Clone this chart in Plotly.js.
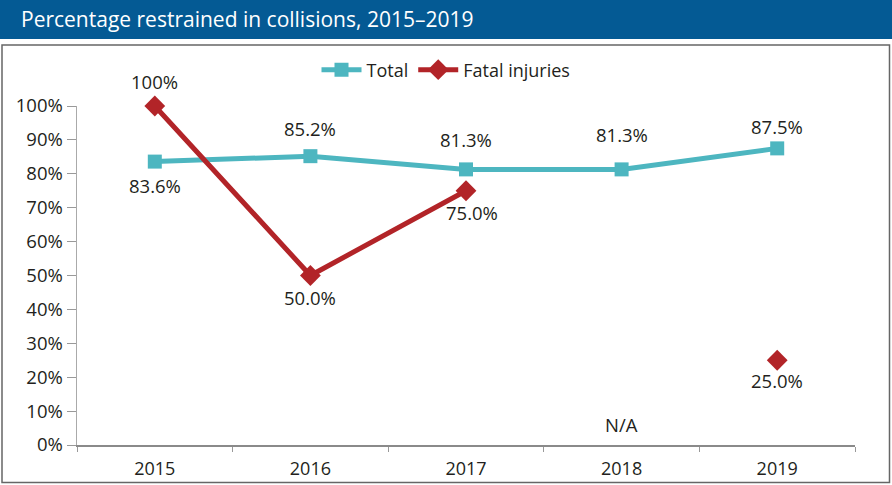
<!DOCTYPE html>
<html>
<head>
<meta charset="utf-8">
<script src="https://cdn.plot.ly/plotly-3.0.1.min.js"></script>
<style>html,body{margin:0;padding:0;background:#fff;}#chart{width:892px;height:485px;}</style>
</head>
<body>
<div id="chart"></div>
<script>
const years = ['2015', '2016', '2017', '2018', '2019'];
const totalValues = [83.6, 85.2, 81.3, 81.3, 87.5];
const fatalValues = [100, 50.0, 75.0, null, 25.0];
const totalLabels = ['83.6%', '85.2%', '81.3%', '81.3%', '87.5%'];
const fatalLabels = ['100%', '50.0%', '75.0%', '', '25.0%'];
const yTickVals = [0, 10, 20, 30, 40, 50, 60, 70, 80, 90, 100];
const yTickText = ['0%', '10%', '20%', '30%', '40%', '50%', '60%', '70%', '80%', '90%', '100%'];
const chartTitle = 'Percentage restrained in collisions, 2015\u20132019';
const naLabel = 'N/A';
const naIndex = 3;

// label placement (pixel offsets from each point), styling only
const totalShiftY = [-24, 28, 30, 35, 22];
const fatalShiftY = [25, -22, -22, 0, -20];
const fatalShiftX = [0, 0, 6, 0, 0];

const TEAL = '#4DB6C0';
const RED = '#B22428';
const TXT = '#231F20';
const FONT = 'Open Sans, Lato, sans-serif';

// plot area in px: x 77..855, y 106..445
const L = 77, R = 855, T = 106, B = 445;
const px = p => (p - L) / (R - L);
const py = q => (B - q) / (B - T);

function labelFont() { return {family: FONT, size: 18.5, color: TXT, weight: 500}; }

const traces = [
  {
    x: years, y: totalValues, name: 'Total', type: 'scatter', mode: 'lines+markers',
    line: {color: TEAL, width: 5},
    marker: {symbol: 'square', size: 14, color: TEAL},
    cliponaxis: false
  },
  {
    x: years, y: fatalValues, name: 'Fatal injuries', type: 'scatter', mode: 'lines+markers',
    connectgaps: false,
    line: {color: RED, width: 5},
    marker: {symbol: 'diamond', size: 16, color: RED},
    cliponaxis: false
  }
];

const annList = [
  {xref: 'paper', yref: 'paper', x: px(19), y: py(19), xanchor: 'left', yanchor: 'middle',
   text: chartTitle, showarrow: false,
   font: {family: FONT, size: 21, color: '#fff'}},
  {x: naIndex, y: 6, xref: 'x', yref: 'y', text: naLabel, showarrow: false, font: labelFont()}
];
for (let i = 0; i < years.length; i++) {
  annList.push({x: i, y: totalValues[i], xref: 'x', yref: 'y', text: totalLabels[i],
    showarrow: false, yshift: totalShiftY[i], font: labelFont()});
  if (fatalValues[i] !== null) {
    annList.push({x: i, y: fatalValues[i], xref: 'x', yref: 'y', text: fatalLabels[i],
      showarrow: false, yshift: fatalShiftY[i], xshift: fatalShiftX[i], font: labelFont()});
  }
}

const layout = {
  width: 892, height: 485,
  margin: {l: L, r: 892 - R, t: T, b: 485 - B, pad: 0},
  paper_bgcolor: '#fff', plot_bgcolor: '#fff',
  font: {family: FONT, color: TXT, size: 16},
  showlegend: true,
  legend: {
    orientation: 'h', x: px(446), xanchor: 'center', y: py(70), yanchor: 'middle',
    font: {family: FONT, size: 18, color: TXT, weight: 500}, bgcolor: 'rgba(0,0,0,0)', itemwidth: 40
  },
  xaxis: {
    type: 'category', range: [-0.5, 4.5], tickson: 'boundaries',
    ticks: 'outside', ticklen: 5, tickcolor: '#999', tickwidth: 1,
    showline: true, linecolor: '#8a8a8a', linewidth: 2,
    showgrid: false, zeroline: false, ticklabelstandoff: 6,
    tickfont: {family: FONT, size: 18, color: TXT, weight: 500}
  },
  yaxis: {
    range: [0, 100], tickvals: yTickVals, ticktext: yTickText,
    ticks: 'outside', ticklen: 9, tickcolor: '#999', tickwidth: 1,
    showline: true, linecolor: '#aaa', linewidth: 1.5,
    showgrid: false, zeroline: false,
    tickfont: {family: FONT, size: 18.5, color: TXT, weight: 500}
  },
  shapes: [
    {type: 'rect', xref: 'paper', yref: 'paper', x0: px(0), x1: px(892), y0: py(39), y1: py(0),
     fillcolor: '#045A94', line: {width: 0}, layer: 'below'},
    {type: 'rect', xref: 'paper', yref: 'paper', x0: px(2), x1: px(889.5), y0: py(482.5), y1: py(45),
     fillcolor: 'rgba(0,0,0,0)', line: {color: '#666', width: 1.5}, layer: 'below'}
  ],
  annotations: annList
};

Plotly.newPlot('chart', traces, layout, {displayModeBar: false, staticPlot: true});
</script>
</body>
</html>
